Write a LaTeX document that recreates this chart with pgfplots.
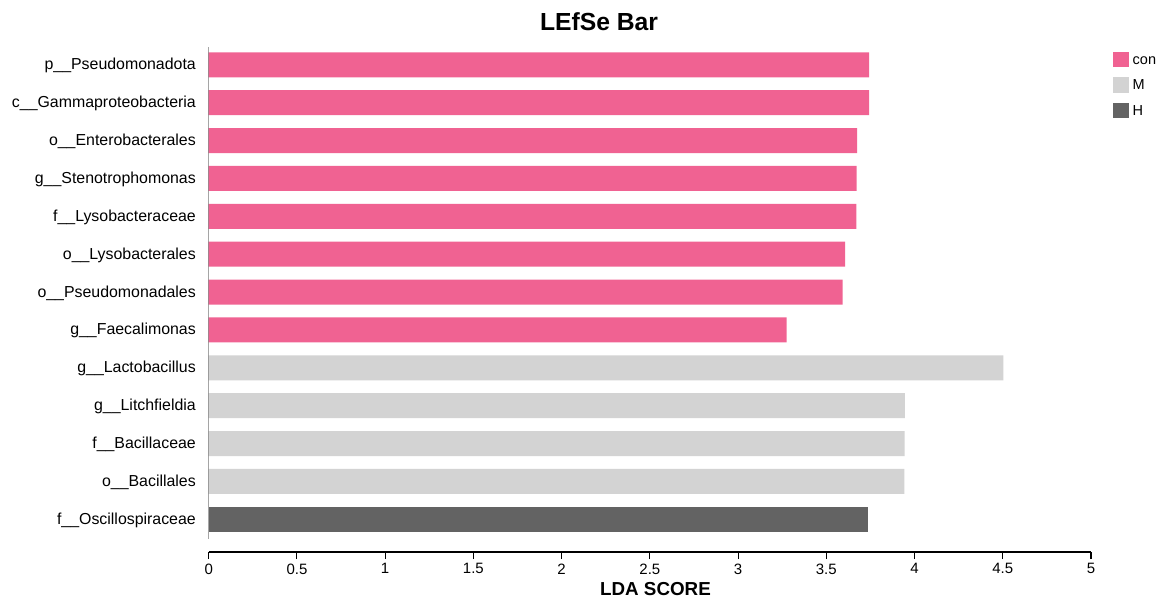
\documentclass[border=0pt]{standalone}
\usepackage{fontspec}
\setmainfont{Liberation Sans}
\usepackage{pgfplots}
\pgfplotsset{compat=1.18}
\definecolor{conpink}{RGB}{240,98,146}
\definecolor{mgray}{RGB}{211,211,211}
\definecolor{hgray}{RGB}{99,99,99}
\begin{document}
\begin{tikzpicture}
\path[use as bounding box] (-208.7pt,-46pt) rectangle (950.3pt,552pt);
\begin{axis}[
  at={(0pt,0pt)}, anchor=south west,
  scale only axis,
  width=882.3pt, height=505pt,
  xmin=0, xmax=5, ymin=-0.863, ymax=12.47,
  xbar, bar width=25pt, bar shift=0pt,
  axis x line=bottom,
  axis y line=left,
  x axis line style={-, line width=1.1pt},
  y axis line style={draw=none},
  xtick={0,0.5,1,1.5,2,2.5,3,3.5,4,4.5,5},
  xticklabels={0,0.5,1,1.5,2,2.5,3,3.5,4,4.5,5},
  xtick align=outside, ytick align=inside,
  major tick length=7pt,
  x tick style={line width=1.1pt, black},
  y tick style={draw=none},
  ytick={0,1,2,3,4,5,6,7,8,9,10,11,12},
  yticklabels={f\_\_Oscillospiraceae,o\_\_Bacillales,f\_\_Bacillaceae,g\_\_Litchfieldia,g\_\_Lactobacillus,g\_\_Faecalimonas,o\_\_Pseudomonadales,o\_\_Lysobacterales,f\_\_Lysobacteraceae,g\_\_Stenotrophomonas,o\_\_Enterobacterales,c\_\_Gammaproteobacteria,p\_\_Pseudomonadota},
  /pgf/number format/assume math mode=true,
  xticklabel style={font=\fontsize{15}{18}\selectfont, yshift=-1pt},
  yticklabel style={font=\fontsize{15.9}{18}\selectfont, inner sep=0pt, xshift=-12.7pt, yshift=-0.8pt},
  xlabel={LDA SCORE},
  xlabel style={font=\bfseries\fontsize{18.8}{22}\selectfont, at={(axis description cs:0.5064,0)}, anchor=base, yshift=-43.5pt},
  title={LEfSe Bar},
  title style={font=\bfseries\fontsize{24.7}{28}\selectfont, at={(axis description cs:0.4424,1.0291)}, anchor=base, yshift=-4.5pt},
  legend style={at={(1.0246,0.9907)}, anchor=north west, draw=none, fill=none, inner sep=0pt, outer sep=0pt,
    font=\fontsize{14.5}{16}\selectfont, row sep=9.9pt,
    nodes={inner sep=0pt, text height=9.6pt, text depth=0pt, anchor=west},
    /tikz/every odd column/.style={column sep=3.7pt}},
  legend cell align=left,
  legend image code/.code={\fill[#1] (0pt,-7.8pt) rectangle (16.3pt,7.8pt);},
]
\addplot[draw=none, fill=conpink] coordinates {
  (3.743,12) (3.743,11) (3.674,10) (3.672,9) (3.671,8) (3.607,7) (3.593,6) (3.275,5)};
\addlegendentry{con}
\addplot[draw=none, fill=mgray] coordinates {
  (4.503,4) (3.945,3) (3.944,2) (3.943,1)};
\addlegendentry{M}
\addplot[draw=none, fill=hgray] coordinates {
  (3.739,0)};
\addlegendentry{H}
\draw[black, line width=1.1pt] (axis cs:0,-0.52) -- (axis cs:0,12.47);
\end{axis}
\end{tikzpicture}
\end{document}
